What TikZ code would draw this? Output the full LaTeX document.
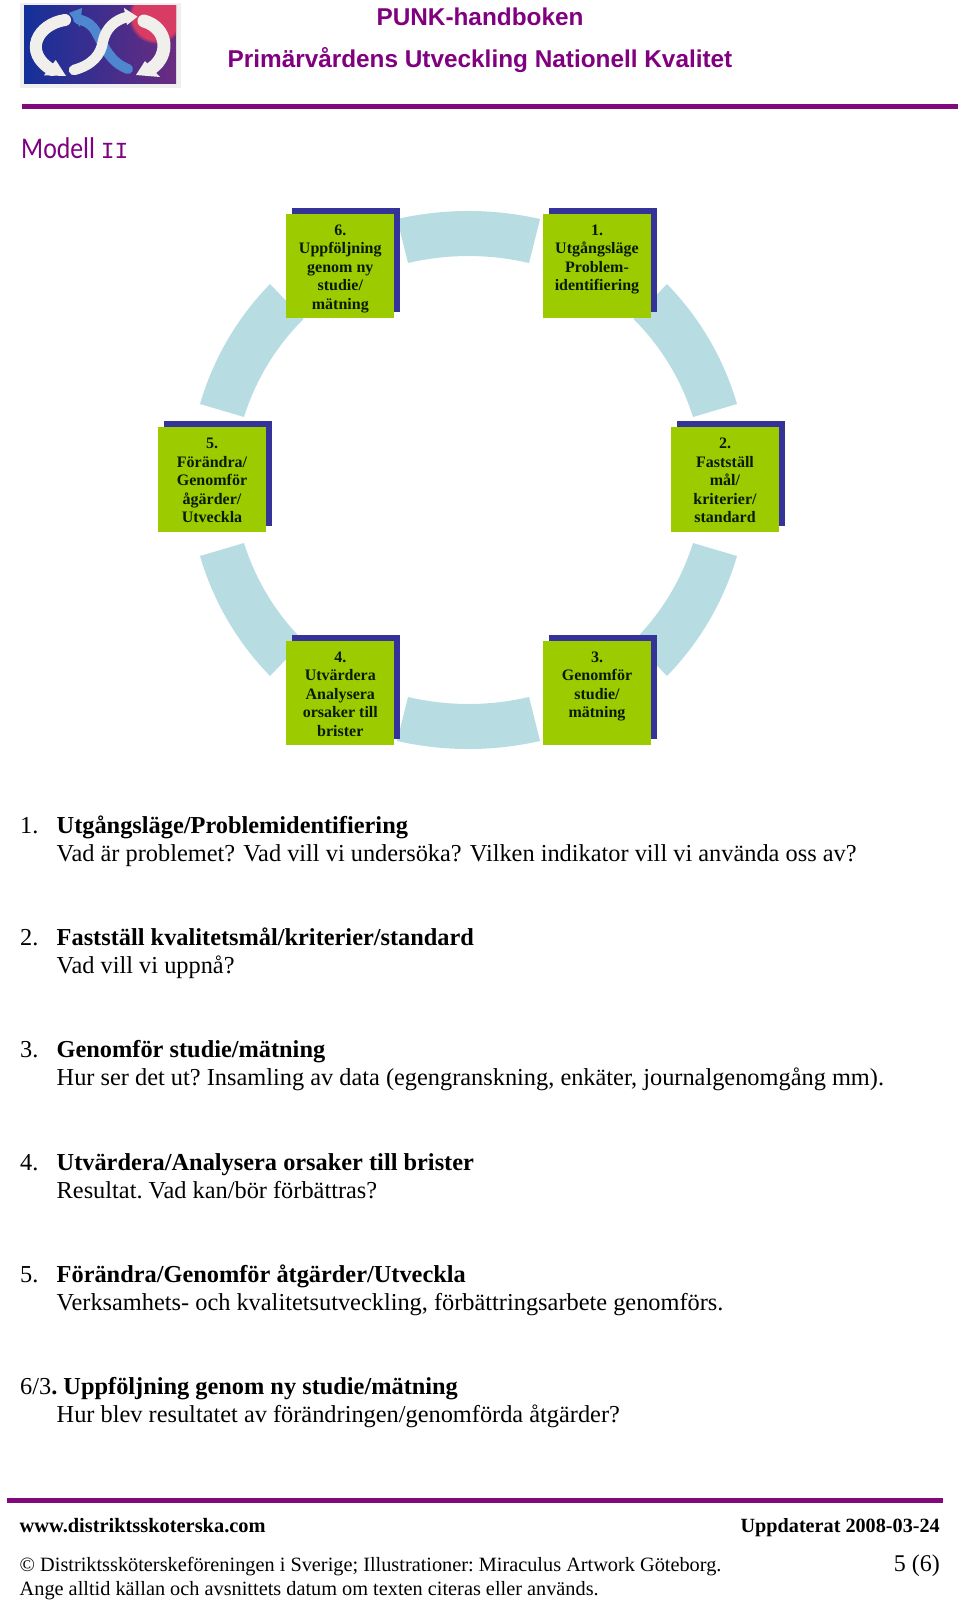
\documentclass[tikz,border=0pt]{standalone}
\usepackage{fontspec}
\setmainfont{Liberation Serif}
\newfontfamily\headfont{Liberation Sans}
\newfontfamily\titlefont[FakeStretch=0.86]{Carlito}
\newfontfamily\titlemono{Liberation Mono}
\usetikzlibrary{shadows,fadings}
\frenchspacing
\definecolor{purplerule}{HTML}{800A7C}
\definecolor{headpurple}{HTML}{800080}
\definecolor{boxgreen}{HTML}{9CCC00}
\definecolor{boxshadow}{HTML}{333399}
\definecolor{arccyan}{HTML}{B7DDE3}
\definecolor{boxtext}{HTML}{0A1A00}
\definecolor{logoblue}{HTML}{14309A}
\definecolor{logomid}{HTML}{1B2A8C}
\definecolor{logopurple}{HTML}{6A2C80}
\definecolor{logored}{HTML}{D83C64}
\definecolor{logowhite}{HTML}{F1EFEC}
\definecolor{logolight}{HTML}{4F86D0}
\definecolor{logobg}{HTML}{EFEFEF}
\tikzset{
  stepbox/.style={fill=boxgreen,minimum width=108pt,minimum height=104.5pt,inner sep=0pt,
    general shadow={fill=boxshadow,shadow xshift=6pt,shadow yshift=6pt},
    font=\fontsize{16}{18.6}\selectfont\bfseries,text=boxtext},
  arcseg/.style={fill=arccyan},
  bodyline/.style={anchor=base west,inner sep=0pt,font=\fontsize{24.35}{28}\selectfont,text=black},
  headline/.style={anchor=base,inner sep=0pt,font=\fontsize{24.35}{28}\selectfont\headfont\bfseries,text=headpurple},
  footline/.style={inner sep=0pt,font=\fontsize{20.3}{24}\selectfont,text=black},
  logoarrow/.style={draw=logowhite,line cap=round},
}
\newcommand{\boxtxt}[1]{\parbox[t][95pt][t]{108pt}{\centering\vspace{6pt}#1}}
\begin{document}
\begin{tikzpicture}[x=1pt,y=-1pt]
\useasboundingbox (0,0) rectangle (960,1603);
% logo
\fill[logobg] (20,3) rectangle (181,88);
\shade[left color=logoblue,middle color=logomid,right color=logopurple] (24,6) rectangle (176,83.5);
\begin{scope}
\clip (24,6) rectangle (176,83.5);
\fill[logored,path fading=circle with fuzzy edge 15 percent] (156,16) circle[radius=28pt];
\end{scope}
\draw[draw=logolight,line width=10pt,line cap=round] (128,69) .. controls (110,62) and (105,48) .. (96,32) .. controls (92,25) and (88,22) .. (78,19);
\fill[logolight] (69,13) -- (82,8) -- (80,27) -- cycle;
\draw[logoarrow,line width=12pt] (65,20) .. controls (38,24) and (22,52) .. (52,70);
\fill[logowhite] (55.7,60) -- (66,76) -- (44,75.3) -- cycle;
\draw[logoarrow,line width=10.5pt] (74,70) .. controls (92,65) and (101,55) .. (103,41) .. controls (106,28) and (115,20) .. (127,17);
\fill[logowhite] (124,8) -- (137.5,16.7) -- (127,25) -- cycle;
\draw[logoarrow,line width=13pt] (144,21) .. controls (168,28) and (170,55) .. (152,68);
\fill[logowhite] (136,75) -- (145,61) -- (160,77) -- cycle;
% header
\node[headline] (h1) at (480,25.7) {PUNK-handboken};
\node[headline] (h2) at (480,67.7) {Primärvårdens Utveckling Nationell Kvalitet};
\fill[purplerule] (22,104.3) rectangle (958,109);
\node[anchor=base west,inner sep=0pt,text=headpurple,font=\fontsize{30}{34}\selectfont] (title) at (21,158) {\titlefont Modell \titlemono\fontsize{23}{26}\selectfont II};
% arcs
\foreach \sx/\sy in {1/1,-1/1,1/-1,-1/-1}{
  \begin{scope}[shift={(468.5,480)},xscale=\sx,yscale=\sy]
    \fill[arcseg] (198.5,-196) .. controls (231.7,-161.7) and (255,-121.7) .. (268.5,-76)
      -- (224.5,-63) .. controls (212.6,-100.5) and (192.8,-133.2) .. (165,-161) -- cycle;
  \end{scope}
}
\foreach \sy in {1,-1}{
  \begin{scope}[shift={(468.5,480)},yscale=\sy]
    \fill[arcseg] (71.5,-261) .. controls (23.8,-271.7) and (-23.8,-271.7) .. (-71.5,-261)
      -- (-60.5,-217) .. controls (-20.2,-226.3) and (20.2,-226.3) .. (60.5,-217) -- cycle;
  \end{scope}
}
% boxes
\node[stepbox] (b1) at (597,266) {\boxtxt{1.\\Utgångsläge\\Problem-\\identifiering}};
\node[stepbox] (b2) at (725,479.5) {\boxtxt{2.\\Fastställ\\mål/\\kriterier/\\standard}};
\node[stepbox] (b3) at (597,693) {\boxtxt{3.\\Genomför\\studie/\\mätning}};
\node[stepbox] (b4) at (340.3,693) {\boxtxt{4.\\Utvärdera\\Analysera\\orsaker till\\brister}};
\node[stepbox] (b5) at (212,479.5) {\boxtxt{5.\\Förändra/\\Genomför\\ågärder/\\Utveckla}};
\node[stepbox] (b6) at (340.3,266) {\boxtxt{6.\\Uppföljning\\genom ny\\studie/\\mätning}};
% body
\node[bodyline] (n1) at (20,833) {1.};
\node[bodyline] (t1) at (56.5,833) {\bfseries Utgångsläge/Problemidentifiering};
\node[bodyline] (d1) at (56.5,861) {\nonfrenchspacing Vad är problemet? Vad vill vi undersöka? Vilken indikator vill vi använda oss av?};
\node[bodyline] (n2) at (20,945.3) {2.};
\node[bodyline] (t2) at (56.5,945.3) {\bfseries Fastställ kvalitetsmål/kriterier/standard};
\node[bodyline] (d2) at (56.5,973) {Vad vill vi uppnå?};
\node[bodyline] (n3) at (20,1057.7) {3.};
\node[bodyline] (t3) at (56.5,1057.7) {\bfseries Genomför studie/mätning};
\node[bodyline] (d3) at (56.5,1085.5) {Hur ser det ut? Insamling av data (egengranskning, enkäter, journalgenomgång mm).};
\node[bodyline] (n4) at (20,1170) {4.};
\node[bodyline] (t4) at (56.5,1170) {\bfseries Utvärdera/Analysera orsaker till brister};
\node[bodyline] (d4) at (56.5,1198) {Resultat. Vad kan/bör förbättras?};
\node[bodyline] (n5) at (20,1282) {5.};
\node[bodyline] (t5) at (56.5,1282) {\bfseries Förändra/Genomför åtgärder/Utveckla};
\node[bodyline] (d5) at (56.5,1310) {Verksamhets- och kvalitetsutveckling, förbättringsarbete genomförs.};
\node[bodyline] (n6) at (20,1394.5) {6/3\textbf{. Uppföljning genom ny studie/mätning}};
\node[bodyline] (d6) at (56.5,1422) {Hur blev resultatet av förändringen/genomförda åtgärder?};
% footer
\fill[purplerule] (7,1498) rectangle (943,1502.5);
\node[footline,anchor=base west,font=\fontsize{20.4}{24}\selectfont\bfseries] (f1) at (19.5,1532) {www.distriktsskoterska.com};
\node[footline,anchor=base east,font=\fontsize{20.2}{24}\selectfont\bfseries] (f2) at (940,1532) {Uppdaterat 2008-03-24};
\node[footline,anchor=base west] (f3) at (19.5,1571) {© Distriktssköterskeföreningen i Sverige; Illustrationer: Miraculus Artwork Göteborg.};
\node[footline,anchor=base east,font=\fontsize{24}{28}\selectfont] (f4) at (940,1571) {5 (6)};
\node[footline,anchor=base west] (f5) at (19.5,1595) {Ange alltid källan och avsnittets datum om texten citeras eller används.};
\end{tikzpicture}
\end{document}
